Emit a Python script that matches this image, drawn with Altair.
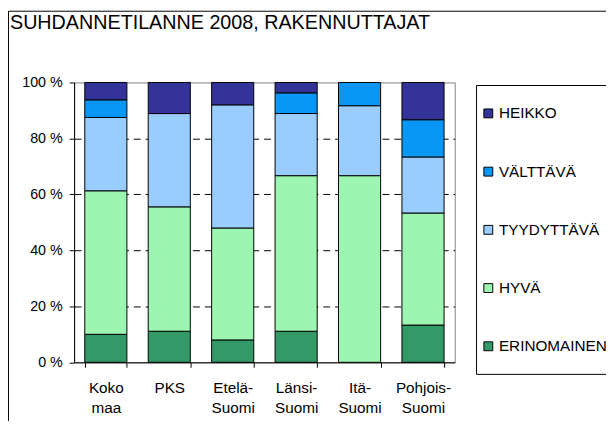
import altair as alt
import pandas as pd

title_text = "SUHDANNETILANNE 2008, RAKENNUTTAJAT"
categories = ["Koko maa", "PKS", "Etelä-Suomi", "Länsi-Suomi", "Itä-Suomi", "Pohjois-Suomi"]
levels = ["ERINOMAINEN", "HYVÄ", "TYYDYTTÄVÄ", "VÄLTTÄVÄ", "HEIKKO"]  # bottom -> top

erinomainen = [10.0, 11.1, 8.0, 11.1, 0.0, 13.3]
hyva = [51.3, 44.4, 40.0, 55.6, 66.7, 40.0]
tyydyttava = [26.2, 33.3, 44.0, 22.2, 25.0, 20.0]
valttava = [6.3, 0.0, 0.0, 7.4, 8.3, 13.3]
heikko = [6.2, 11.1, 8.0, 3.7, 0.0, 13.3]

legend_order = ["HEIKKO", "VÄLTTÄVÄ", "TYYDYTTÄVÄ", "HYVÄ", "ERINOMAINEN"]
palette = ["#333399", "#0A96F5", "#99CCFF", "#9CF5B0", "#339966"]

series = [erinomainen, hyva, tyydyttava, valttava, heikko]
rows = []
for li, (lvl, vals) in enumerate(zip(levels, series)):
    for c, v in zip(categories, vals):
        if v > 0:
            rows.append({"alue": c, "taso": lvl, "osuus": v, "jarj": li})
df = pd.DataFrame(rows)

FONT = "Liberation Sans"
W, H = 385.7, 283.6

bars = alt.Chart(df).mark_bar(stroke="black", strokeWidth=1).encode(
    x=alt.X(
        "alue:N", sort=categories, title=None,
        scale=alt.Scale(paddingInner=0.336, paddingOuter=0.168),
        axis=alt.Axis(
            labelAngle=0, tickBand="extent", tickSize=5, tickColor="black",
            domainColor="black", labelFont=FONT, labelFontSize=15.5,
            labelColor="black", labelPadding=14, labelLineHeight=20,
            labelExpr="isValid(datum.value) ? split(replace(replace(datum.value, ' ', '|'), '-', '-|'), '|') : ''",
        ),
    ),
    y=alt.Y(
        "osuus:Q", stack="normalize", title=None,
        scale=alt.Scale(domain=[0, 1], nice=False),
        axis=alt.Axis(
            values=[0, 0.2, 0.4, 0.6, 0.8, 1.0],
            labelExpr="round(datum.value*100) + ' %'",
            tickSize=5, tickColor="black", domainColor="black",
            grid=True, gridColor="black", gridDash=[7, 5],
            gridOpacity={"condition": {"test": "datum.value == 0 || datum.value == 1", "value": 0}, "value": 1},
            labelFont=FONT, labelFontSize=14.5, labelColor="black", labelPadding=7,
        ),
    ),
    color=alt.Color(
        "taso:N",
        scale=alt.Scale(domain=legend_order, range=palette),
        legend=alt.Legend(
            title=None, orient="none", direction="vertical",
            legendX=412, legendY=23.6, symbolType="square", symbolSize=81,
            symbolStrokeColor="black", symbolStrokeWidth=1,
            labelFont=FONT, labelFontSize=15.5, labelColor="black",
            labelOffset=3, rowPadding=42, padding=0, labelLimit=300,
        ),
    ),
    order=alt.Order("jarj:Q", sort="ascending"),
)

one = pd.DataFrame({"t": [title_text]})

legend_box = alt.Chart(one).mark_rect(fillOpacity=0, stroke="black", strokeWidth=1).encode(
    x=alt.value(407.8), x2=alt.value(560), y=alt.value(3.1), y2=alt.value(295.8)
)

outer_border = alt.Chart(one).mark_rect(fillOpacity=0, stroke="black", strokeWidth=1).encode(
    x=alt.value(-66.5), x2=alt.value(600), y=alt.value(-72.2), y2=alt.value(400)
)

title = alt.Chart(one).mark_text(
    font=FONT, fontSize=20, align="left", baseline="alphabetic", color="black"
).encode(text="t:N", x=alt.value(-65), y=alt.value(-54))

chart = alt.layer(outer_border, bars, legend_box, title).properties(
    width=W, height=H,
    autosize=alt.AutoSizeParams(type="none"),
    padding={"left": 67, "top": 72.7, "right": 153.3, "bottom": 56.7},
).configure_view(stroke="#808080", strokeWidth=1)

chart.save("out.html", embed_options={"renderer": "svg", "actions": False})
